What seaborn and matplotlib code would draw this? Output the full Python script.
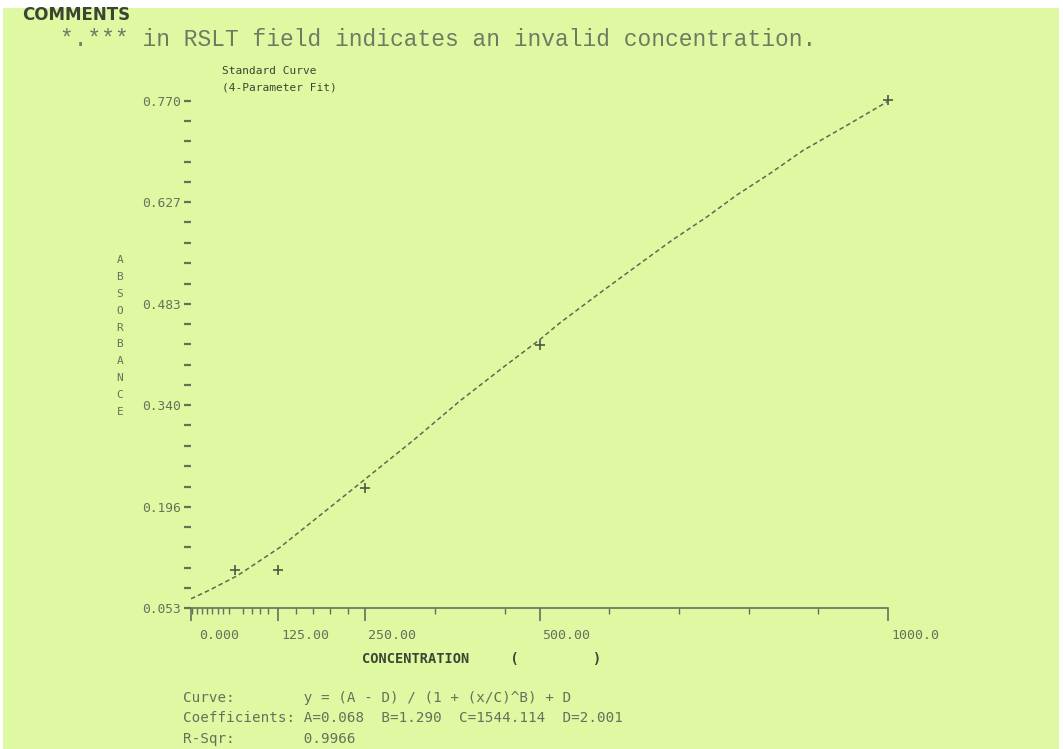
#import packages
import numpy as np
import pandas as pd
import seaborn as sns
import matplotlib.pyplot as plt
from matplotlib.patches import Rectangle
from matplotlib.transforms import ScaledTranslation

# standards (concentration, absorbance)
std_conc = [62.5, 125, 250, 500, 1000]
std_abs = [0.107, 0.107, 0.223, 0.425, 0.771]

# fitted curve
curve_conc = [0, 30, 67, 128, 185, 242, 320, 386, 450, 501, 529, 590, 644, 690, 740, 783, 830, 878, 940, 999]
curve_abs = [0.066, 0.080, 0.099, 0.139, 0.184, 0.229, 0.291, 0.346, 0.395, 0.433, 0.456, 0.501, 0.540, 0.573, 0.606, 0.637, 0.667, 0.700, 0.735, 0.769]

# axis ticks as printed
y_ticks = [0.053, 0.196, 0.340, 0.483, 0.627, 0.770]
y_labels = ["0.053", "0.196", "0.340", "0.483", "0.627", "0.770"]
x_ticks = [0, 125, 250, 500, 1000]
x_labels = ["0.000", "125.00", "250.00", "500.00", "1000.0"]
x_minor = [2, 9, 16, 23, 30, 39, 46, 55, 75, 88, 99, 110, 150, 175, 200, 225, 350, 450, 600, 700, 800, 900]

comment = "*.*** in RSLT field indicates an invalid concentration."
fit_lines = ["Curve:        y = (A - D) / (1 + (x/C)^B) + D",
             "Coefficients: A=0.068  B=1.290  C=1544.114  D=2.001",
             "R-Sqr:        0.9966"]

W, H = 1063, 749
paper = "#dff9a3"
ink = "#66715a"
dark = "#3c4433"
mono = ["DejaVu Sans Mono"]

sns.set_theme(style="white")
plt.rcParams['font.family'] = mono

def fx(x):
    return x / W

def fy(y):
    return 1 - y / H

fig = plt.figure(figsize=(W / 100, H / 100), dpi=100, facecolor="white")
fig.patches.append(Rectangle((fx(3), 0), fx(1056), fy(8), transform=fig.transFigure,
                             facecolor=paper, edgecolor="none", zorder=-1))

ax = fig.add_axes([fx(191), fy(608), fx(888 - 191), (608 - 101) / H])
ax.set_facecolor("none")

curve = pd.DataFrame({"conc": curve_conc, "abs": curve_abs})
stds = pd.DataFrame({"conc": std_conc, "abs": std_abs})

sns.lineplot(data=curve, x="conc", y="abs", ax=ax, color="#5e6a50", linewidth=1.1,
             linestyle=(0, (3, 2)))
sns.scatterplot(data=stds, x="conc", y="abs", ax=ax, marker="+", s=42, color="#4e5844",
                linewidth=1.2, clip_on=False, zorder=5)

ax.set_xlim(0, 1000)
ax.set_ylim(0.053, 0.770)

# y axis: dash ticks, no spine
minor_y = []
for lo, hi in zip(y_ticks[:-1], y_ticks[1:]):
    minor_y += list(np.linspace(lo, hi, 6)[1:-1])
ax.set_yticks(y_ticks)
ax.set_yticklabels(y_labels)
ax.set_yticks(minor_y, minor=True)
ax.tick_params(axis="y", which="both", left=True, length=5, width=1.6, color=ink,
               pad=2, labelsize=9.3, labelcolor=ink)

# x axis
ax.set_xticks(x_ticks)
ax.set_xticklabels(x_labels)
ax.set_xticks(x_minor, minor=True)
ax.tick_params(axis="x", which="major", bottom=True, length=9, width=1.2, color=ink,
               pad=6, labelsize=9.5, labelcolor=ink)
ax.tick_params(axis="x", which="minor", bottom=True, length=4, width=1.0, color=ink)
for i, lab in enumerate(ax.get_xticklabels()):
    lab.set_ha("left")
    shift = 8 if i == 0 else 3
    lab.set_transform(lab.get_transform() + ScaledTranslation(shift / 100, 0, fig.dpi_scale_trans))

for side in ["top", "right", "left"]:
    ax.spines[side].set_visible(False)
ax.spines["bottom"].set_color(ink)
ax.spines["bottom"].set_linewidth(1.2)

ax.set_xlabel("CONCENTRATION     (         )", fontsize=9.8, color=dark, fontweight="bold")
ax.xaxis.set_label_coords((482 - 191) / 697, -(659 - 608) / 507)
ax.xaxis.label.set_va("center")
ax.set_ylabel("A\nB\nS\nO\nR\nB\nA\nN\nC\nE", rotation=0, fontsize=8, color=ink,
              linespacing=1.86)
ax.yaxis.set_label_coords((120 - 191) / 697, (608 - 336) / 507)
ax.yaxis.label.set_va("center")

# header texts
fig.text(fx(22), fy(15), "COMMENTS", family=["DejaVu Sans"], fontsize=12,
         fontweight="bold", color=dark, va="center")
fig.text(fx(60), fy(39), comment, family=["Liberation Mono"], fontsize=16.5,
         color="#6f7a62", va="center")
fig.text(fx(222), fy(79), "Standard Curve\n(4-Parameter Fit)", fontsize=8, color=dark,
         va="center", linespacing=1.75)

# fit summary under the chart
for line, y in zip(fit_lines, [698, 718, 739]):
    fig.text(fx(183), fy(y), line, fontsize=10.3, color=ink, va="center")

plt.savefig("out.png", dpi=100, facecolor=fig.get_facecolor())
plt.close()
